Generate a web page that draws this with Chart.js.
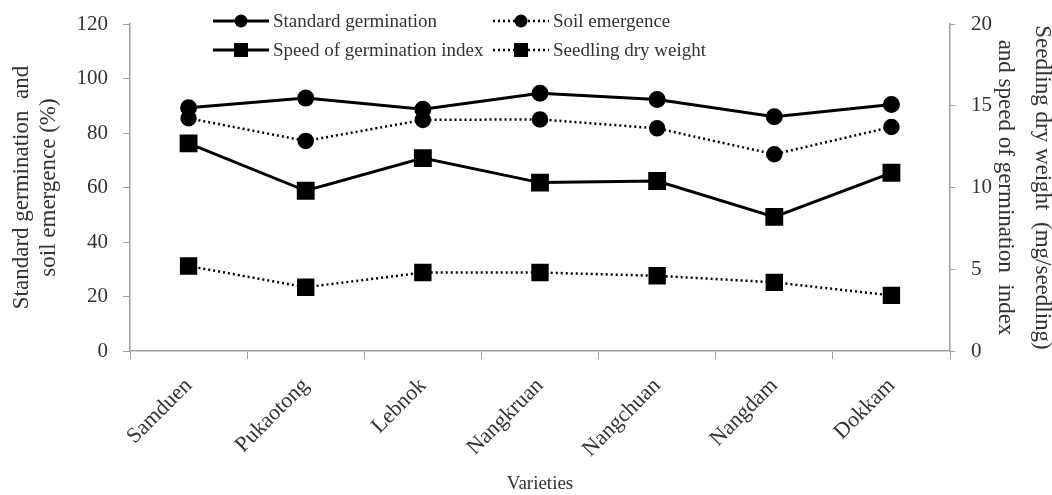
<!DOCTYPE html>
<html>
<head>
<meta charset="utf-8">
<script src="https://cdn.jsdelivr.net/npm/chart.js@4"></script>
<style>
  body { margin: 0; background: #fff; }
  #wrap { width: 1052px; height: 495px; }
</style>
</head>
<body>
<div id="wrap"><canvas id="chart"></canvas></div>
<script>
// Données
const varieties = ['Samduen', 'Pukaotong', 'Lebnok', 'Nangkruan', 'Nangchuan', 'Nangdam', 'Dokkam'];
const standardGermination = [89.3, 92.8, 88.7, 94.6, 92.3, 86.0, 90.5];
const soilEmergence = [85.4, 77.1, 84.8, 85.0, 81.7, 72.2, 82.2];
const speedIndex = [12.7, 9.8, 11.8, 10.3, 10.4, 8.2, 10.9];
const dryWeight = [5.2, 3.9, 4.8, 4.8, 4.6, 4.2, 3.4];
const leftTicks = [0, 20, 40, 60, 80, 100, 120];
const rightTicks = [0, 5, 10, 15, 20];

const serif = "'Liberation Serif', 'Times New Roman', serif";
const textColor = '#333';
const axisColor = '#a0a0a0';

// Légende sur deux colonnes, dessinée à la main
const legendPlugin = {
    id: 'twoColLegend',
    afterDraw(chart) {
        const ctx = chart.ctx;
        const items = [
            { ds: 0, x: 213, y: 21 },
            { ds: 1, x: 493, y: 21 },
            { ds: 2, x: 213, y: 50 },
            { ds: 3, x: 493, y: 50 }
        ];
        ctx.save();
        items.forEach(it => {
            const ds = chart.data.datasets[it.ds];
            const w = 56;
            ctx.strokeStyle = '#000';
            ctx.lineWidth = ds.borderWidth;
            ctx.setLineDash(ds.borderDash || []);
            ctx.beginPath();
            ctx.moveTo(it.x, it.y);
            ctx.lineTo(it.x + w, it.y);
            ctx.stroke();
            ctx.setLineDash([]);
            ctx.fillStyle = '#000';
            const cx = it.x + w / 2;
            if (ds.pointStyle === 'circle') {
                ctx.beginPath();
                ctx.arc(cx, it.y, 6.5, 0, Math.PI * 2);
                ctx.fill();
            } else {
                ctx.fillRect(cx - 7, it.y - 7, 14, 14);
            }
            ctx.fillStyle = textColor;
            ctx.font = '19px ' + serif;
            ctx.textBaseline = 'middle';
            ctx.textAlign = 'left';
            ctx.fillText(ds.label, it.x + w + 4, it.y + 1);
        });
        ctx.restore();
    }
};

// largeur fixe des axes verticaux, sans marge haute/basse supplémentaire
const fixVertical = width => s => {
    s.width = width;
    s.paddingTop = 0;
    s.paddingBottom = 0;
};

const ctx = document.getElementById('chart').getContext('2d');
new Chart(ctx, {
    type: 'line',
    data: {
        labels: varieties,
        datasets: [{
            label: 'Standard germination',
            data: standardGermination,
            yAxisID: 'y',
            borderColor: '#000',
            backgroundColor: '#000',
            borderWidth: 3,
            pointStyle: 'circle',
            pointRadius: 7,
            tension: 0
        }, {
            label: 'Soil emergence',
            data: soilEmergence,
            yAxisID: 'y',
            borderColor: '#000',
            backgroundColor: '#000',
            borderWidth: 2.5,
            borderDash: [2, 3],
            pointStyle: 'circle',
            pointRadius: 7,
            tension: 0
        }, {
            label: 'Speed of germination index',
            data: speedIndex,
            yAxisID: 'y1',
            borderColor: '#000',
            backgroundColor: '#000',
            borderWidth: 3,
            pointStyle: 'rect',
            pointRadius: 10.5,
            tension: 0
        }, {
            label: 'Seedling dry weight',
            data: dryWeight,
            yAxisID: 'y1',
            borderColor: '#000',
            backgroundColor: '#000',
            borderWidth: 2.5,
            borderDash: [2, 3],
            pointStyle: 'rect',
            pointRadius: 10.5,
            tension: 0
        }]
    },
    options: {
        responsive: true,
        maintainAspectRatio: false,
        animation: false,
        layout: { padding: { top: 24, left: 0, right: 0, bottom: 0 } },
        scales: {
            x: {
                offset: true,
                afterFit: s => { s.height = 144; },
                grid: { offset: true, drawOnChartArea: false, color: axisColor, tickLength: 8 },
                border: { color: axisColor, width: 1.5 },
                ticks: {
                    maxRotation: 45,
                    minRotation: 45,
                    padding: 14,
                    color: textColor,
                    font: { family: serif, size: 22 }
                },
                title: {
                    display: true,
                    text: 'Varieties',
                    color: textColor,
                    font: { family: serif, size: 19 },
                    padding: { top: 0, bottom: 0 }
                }
            },
            y: {
                position: 'left',
                min: 0,
                max: 120,
                afterFit: fixVertical(130),
                afterBuildTicks: axis => { axis.ticks = leftTicks.map(v => ({ value: v })); },
                grid: { drawOnChartArea: false, color: axisColor, tickLength: 7 },
                border: { color: axisColor, width: 1.5 },
                ticks: { color: textColor, font: { family: serif, size: 21 }, padding: 15 },
                title: {
                    display: true,
                    text: ['Standard germination  and', 'soil emergence (%)'],
                    color: textColor,
                    font: { family: serif, size: 23, lineHeight: 1.2 },
                    padding: { top: 8 }
                }
            },
            y1: {
                position: 'right',
                min: 0,
                max: 20,
                afterFit: fixVertical(102),
                afterBuildTicks: axis => { axis.ticks = rightTicks.map(v => ({ value: v })); },
                grid: { drawOnChartArea: false, color: axisColor, tickLength: 5 },
                border: { color: axisColor, width: 1.5 },
                ticks: { color: textColor, font: { family: serif, size: 21 }, padding: 16 },
                title: {
                    display: true,
                    text: ['Seedling dry weight  (mg/seedling)', 'and speed of germination  index'],
                    color: textColor,
                    font: { family: serif, size: 23, lineHeight: 1.6 },
                    padding: { top: -8 }
                }
            }
        },
        plugins: {
            legend: { display: false },
            tooltip: { enabled: false }
        }
    },
    plugins: [legendPlugin]
});
</script>
</body>
</html>
